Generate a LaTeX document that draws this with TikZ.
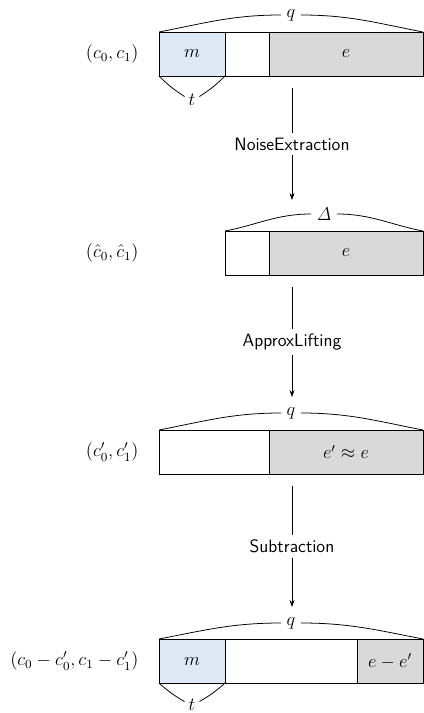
\documentclass[tikz,border=0pt]{standalone}
\usetikzlibrary{arrows.meta}
\definecolor{mblue}{RGB}{222,233,245}
\definecolor{egray}{RGB}{217,217,217}
\begin{document}
\begin{tikzpicture}[x=0.02273cm,y=-0.02273cm,
  every node/.style={font=\fontsize{11.6}{14}\selectfont},
  cell/.style={draw,line width=0.6pt},
  mcell/.style={cell,fill=mblue},
  ecell/.style={cell,fill=egray},
  brc/.style={line width=0.5pt},
  flow/.style={line width=0.5pt,-{Stealth[length=4.5pt,width=3.2pt]}},
  steplbl/.style={fill=white,font=\fontsize{11.6}{14}\sffamily,inner sep=3pt},
  rowlbl/.style={anchor=east}]
\useasboundingbox (0,0) rectangle (424,713);

% Row 1
\path[mcell] (159,32) rectangle (225,76);
\path[cell] (225,32) rectangle (269,76);
\path[ecell] (269,32) rectangle (423,76);
\coordinate (r1nw) at (159,32); \coordinate (r1ne) at (423,32);
\coordinate (r1sw) at (159,76); \coordinate (r1sm) at (225,76);
\node (m1) at (192,54) {$m$};
\node (e1) at (346,54) {$e$};
\node (q1) at (291,15) {$q$};
\node[inner sep=2.5pt] (t1) at (192,100) {$t$};
\node[rowlbl] (l1) at (144,54) {$(c_0,c_1)$};
\draw[brc] (r1nw) to[out=11,in=180] (q1.west);
\draw[brc] (q1.east) to[out=0,in=169] (r1ne);
\draw[brc] (r1sw) to[bend right=6] (t1.155);
\draw[brc] (r1sm) to[bend left=6] (t1.25);

% Row 2
\path[cell] (225,231) rectangle (269,275);
\path[ecell] (269,231) rectangle (423,275);
\coordinate (r2nw) at (225,231); \coordinate (r2ne) at (423,231);
\node (e2) at (346,253) {$e$};
\node (d2) at (324,214) {$\mathit{\Delta}$};
\node[rowlbl] (l2) at (144,253) {$(\hat c_0,\hat c_1)$};
\draw[brc] (r2nw) to[out=11,in=180] (d2.west);
\draw[brc] (d2.east) to[out=0,in=169] (r2ne);

% Row 3
\path[cell] (159,430) rectangle (269,474);
\path[ecell] (269,430) rectangle (423,474);
\coordinate (r3nw) at (159,430); \coordinate (r3ne) at (423,430);
\node (e3) at (346,452) {$e'\approx e$};
\node (q3) at (291,413) {$q$};
\node[rowlbl] (l3) at (144,452) {$(c_0',c_1')$};
\draw[brc] (r3nw) to[out=11,in=180] (q3.west);
\draw[brc] (q3.east) to[out=0,in=169] (r3ne);

% Row 4
\path[mcell] (159,639) rectangle (225,683);
\path[cell] (225,639) rectangle (357,683);
\path[ecell] (357,639) rectangle (423,683);
\coordinate (r4nw) at (159,639); \coordinate (r4ne) at (423,639);
\coordinate (r4sw) at (159,683); \coordinate (r4sm) at (225,683);
\node (m4) at (192,661) {$m$};
\node (e4) at (390,661) {$e-e'$};
\node (q4) at (291,623) {$q$};
\node[inner sep=2.5pt] (t4) at (192,705) {$t$};
\node[rowlbl] (l4) at (144,661) {$(c_0-c_0',c_1-c_1')$};
\draw[brc] (r4nw) to[out=11,in=180] (q4.west);
\draw[brc] (q4.east) to[out=0,in=169] (r4ne);
\draw[brc] (r4sw) to[bend right=6] (t4.155);
\draw[brc] (r4sm) to[bend left=6] (t4.25);

% Arrows
\coordinate (a1s) at (292,88); \coordinate (a1e) at (292,200);
\coordinate (a2s) at (292,287); \coordinate (a2e) at (292,397);
\coordinate (a3s) at (292,486); \coordinate (a3e) at (292,607);
\draw[flow] (a1s) -- node[steplbl] {NoiseExtraction} (a1e);
\draw[flow] (a2s) -- node[steplbl] {ApproxLifting} (a2e);
\draw[flow] (a3s) -- node[steplbl] {Subtraction} (a3e);
\end{tikzpicture}
\end{document}
